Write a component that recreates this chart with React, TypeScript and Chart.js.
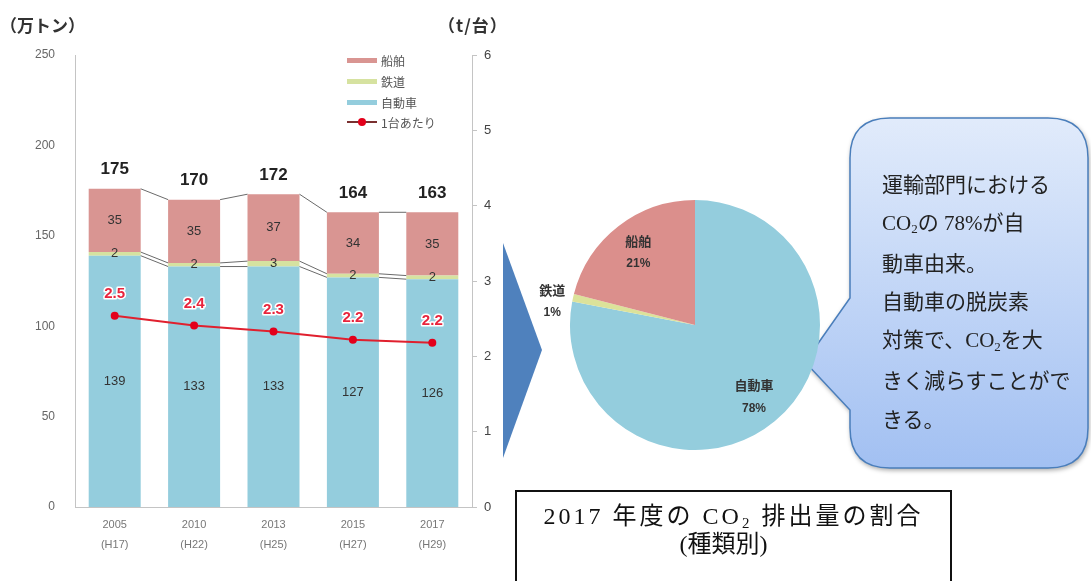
import React, { useEffect, useRef } from "react";
import { Chart, registerables } from "chart.js";

Chart.register(...registerables);

// ---------- data ----------
const years: string[][] = [
  ["2005", "(H17)"],
  ["2010", "(H22)"],
  ["2013", "(H25)"],
  ["2015", "(H27)"],
  ["2017", "(H29)"],
];
const carEmissions = [139, 133, 133, 127, 126];
const railEmissions = [2, 2, 3, 2, 2];
const shipEmissions = [35, 35, 37, 34, 35];
const totalEmissions = [175, 170, 172, 164, 163];
const perVehicle = [2.54, 2.41, 2.33, 2.22, 2.18];

const seriesNames = ["自動車", "鉄道", "船舶", "1台あたり"];
const pieLabels = ["自動車", "鉄道", "船舶"];
const pieShares = [78, 1, 21];

// ---------- styles ----------
const BLUE = "#94CDDD";
const RAIL = "#D6E2A0";
const PINK = "#D99592";
const RED = "#E0202E";
const SANS = "'Liberation Sans', 'Noto Sans CJK JP', sans-serif";
const CJK = "'Noto Sans CJK JP', 'Liberation Sans', sans-serif";
const SERIF = "'Liberation Serif', 'Noto Sans CJK JP', serif";

const barLabelPlugin = {
  id: "barLabels",
  afterDatasetsDraw(chart: any) {
    const ctx = chart.ctx as CanvasRenderingContext2D;
    ctx.save();
    const barMetas = [0, 1, 2].map((i) => chart.getDatasetMeta(i));
    // series connector lines
    ctx.strokeStyle = "#6a6a6a";
    ctx.lineWidth = 1;
    barMetas.forEach((meta: any) => {
      for (let j = 0; j < meta.data.length - 1; j++) {
        const a = meta.data[j];
        const b = meta.data[j + 1];
        ctx.beginPath();
        ctx.moveTo(a.x + a.width / 2, a.y);
        ctx.lineTo(b.x - b.width / 2, b.y);
        ctx.stroke();
      }
    });
    // segment labels
    ctx.textAlign = "center";
    ctx.textBaseline = "middle";
    ctx.font = `13px ${SANS}`;
    ctx.fillStyle = "#333";
    barMetas.forEach((meta: any, i: number) => {
      const vals = chart.data.datasets[i].data;
      meta.data.forEach((el: any, j: number) => {
        ctx.fillText(String(vals[j]), el.x, (el.y + el.base) / 2);
      });
    });
    // totals
    ctx.font = `bold 17px ${SANS}`;
    ctx.fillStyle = "#222";
    barMetas[2].data.forEach((el: any, j: number) => {
      ctx.fillText(String(totalEmissions[j]), el.x, el.y - 19);
    });
    // per vehicle labels
    const lm = chart.getDatasetMeta(3);
    ctx.font = `bold 15px ${SANS}`;
    ctx.lineJoin = "round";
    ctx.lineWidth = 3;
    ctx.strokeStyle = "#ffffff";
    ctx.fillStyle = "#E8243C";
    lm.data.forEach((pt: any, j: number) => {
      const t = perVehicle[j].toFixed(1);
      ctx.strokeText(t, pt.x, pt.y - 22);
      ctx.fillText(t, pt.x, pt.y - 22);
    });
    ctx.restore();
  },
};

const pieLabelPlugin = {
  id: "pieLabels",
  afterDatasetsDraw(chart: any) {
    const ctx = chart.ctx as CanvasRenderingContext2D;
    const meta = chart.getDatasetMeta(0);
    ctx.save();
    ctx.textAlign = "center";
    ctx.textBaseline = "middle";
    ctx.fillStyle = "#333";
    meta.data.forEach((arc: any, i: number) => {
      const mid = (arc.startAngle + arc.endAngle) / 2;
      const v = pieShares[i];
      const r = v < 5 ? arc.outerRadius * 1.17 : arc.outerRadius * 0.74;
      const x = arc.x + Math.cos(mid) * r;
      const y = arc.y + Math.sin(mid) * r + (v < 5 ? 8 : 0);
      ctx.font = `bold 13px ${CJK}`;
      ctx.fillText(pieLabels[i], x, y - 11);
      ctx.font = `bold 12px ${SANS}`;
      ctx.fillText(v + "%", x, y + 12);
    });
    ctx.restore();
  },
};

function BarChart() {
  const ref = useRef<HTMLCanvasElement>(null);
  useEffect(() => {
    if (!ref.current) return;
    const chart = new Chart(ref.current, {
      type: "bar",
      data: {
        labels: years,
        datasets: [
          { type: "bar", label: seriesNames[0], data: carEmissions, backgroundColor: BLUE, order: 1, yAxisID: "y" },
          { type: "bar", label: seriesNames[1], data: railEmissions, backgroundColor: RAIL, order: 1, yAxisID: "y" },
          { type: "bar", label: seriesNames[2], data: shipEmissions, backgroundColor: PINK, order: 1, yAxisID: "y" },
          {
            type: "line",
            label: seriesNames[3],
            data: perVehicle,
            yAxisID: "y1",
            order: 0,
            borderColor: RED,
            borderWidth: 2,
            pointRadius: 4,
            pointBackgroundColor: "#E3001B",
            pointBorderWidth: 0,
            tension: 0,
          } as any,
        ],
      },
      options: {
        responsive: false,
        maintainAspectRatio: false,
        animation: false,
        layout: { padding: { top: 55, left: 0, right: 0, bottom: 0 } },
        datasets: { bar: { categoryPercentage: 1, barPercentage: 0.655 } } as any,
        plugins: { legend: { display: false }, tooltip: { enabled: false } },
        scales: {
          x: {
            stacked: true,
            grid: { display: false, drawTicks: false },
            border: { display: true, color: "#c4c4c4" },
            ticks: { color: "#777", font: { family: SANS, size: 11, lineHeight: 1.8 }, padding: 8, maxRotation: 0 },
            afterFit: (s: any) => { s.height = 74; },
          },
          y: {
            stacked: true,
            position: "left",
            min: 0,
            max: 250,
            grid: { display: false, drawTicks: false },
            border: { display: true, color: "#c4c4c4" },
            ticks: { stepSize: 50, color: "#666", font: { family: SANS, size: 12 }, padding: 20 },
            afterFit: (s: any) => { s.width = 75; },
          },
          y1: {
            position: "right",
            min: 0,
            max: 6,
            grid: { display: true, drawOnChartArea: false, drawTicks: true, tickLength: 5, color: "#c4c4c4" },
            border: { display: true, color: "#c4c4c4" },
            ticks: { stepSize: 1, color: "#444", font: { family: SANS, size: 13 }, padding: 7 },
            afterFit: (s: any) => { s.width = 48; },
          },
        },
      },
      plugins: [barLabelPlugin],
    });
    return () => chart.destroy();
  }, []);
  return <canvas ref={ref} width={520} height={581} style={{ position: "absolute", left: 0, top: 0 }} />;
}

function PieChart() {
  const ref = useRef<HTMLCanvasElement>(null);
  useEffect(() => {
    if (!ref.current) return;
    const chart = new Chart(ref.current, {
      type: "pie",
      data: {
        labels: pieLabels,
        datasets: [{ data: pieShares, backgroundColor: [BLUE, "#DCE29A", "#DB8F8C"], borderWidth: 0 }],
      },
      options: {
        responsive: false,
        maintainAspectRatio: false,
        animation: false,
        layout: { padding: { left: 55, right: 55, top: 35, bottom: 35 } },
        plugins: { legend: { display: false }, tooltip: { enabled: false } },
      },
      plugins: [pieLabelPlugin],
    });
    return () => chart.destroy();
  }, []);
  return <canvas ref={ref} width={360} height={320} style={{ position: "absolute", left: 515, top: 165 }} />;
}

const Sub2 = () => <span style={{ fontSize: "0.62em", position: "relative", top: "0.25em" }}>2</span>;

const legendRows = [
  { name: seriesNames[2], color: PINK, y: 60 },
  { name: seriesNames[1], color: RAIL, y: 81 },
  { name: seriesNames[0], color: BLUE, y: 102 },
];

export default function App() {
  return (
    <div
      style={{
        position: "fixed",
        left: 0,
        top: 0,
        width: 1091,
        height: 581,
        overflow: "hidden",
        background: "#fff",
      }}
    >
      <BarChart />
      <div style={{ position: "absolute", left: 0, top: 13, font: `bold 17px ${CJK}`, color: "#333", lineHeight: "24px" }}>
        （万トン）
      </div>
      <div style={{ position: "absolute", left: 438, top: 13, font: `bold 17px ${CJK}`, color: "#333", lineHeight: "24px", letterSpacing: 1 }}>
        （t/台）
      </div>
      {legendRows.map((r) => (
        <div key={r.name} style={{ position: "absolute", left: 347, top: r.y - 9, height: 18, display: "flex", alignItems: "center" }}>
          <div style={{ width: 30, height: 5, background: r.color }} />
          <span style={{ marginLeft: 4, font: `12px ${CJK}`, color: "#555" }}>{r.name}</span>
        </div>
      ))}
      <div style={{ position: "absolute", left: 347, top: 113, height: 18, display: "flex", alignItems: "center" }}>
        <div style={{ position: "relative", width: 30, height: 18 }}>
          <div style={{ position: "absolute", left: 0, top: 8, width: 30, height: 2, background: "#7a3030" }} />
          <div style={{ position: "absolute", left: 11, top: 5, width: 8, height: 8, borderRadius: 4, background: "#E3001B" }} />
        </div>
        <span style={{ marginLeft: 4, font: `12px ${CJK}`, color: "#555" }}>{seriesNames[3]}</span>
      </div>

      <svg width={1091} height={581} style={{ position: "absolute", left: 0, top: 0 }}>
        <defs>
          <linearGradient id="cg" x1="0" y1="0" x2="0" y2="1">
            <stop offset="0" stopColor="#E1EBFB" />
            <stop offset="1" stopColor="#A2C0F2" />
          </linearGradient>
        </defs>
        <polygon points="503,243 542,350 503,458" fill="#4F81BD" />
        <path
          d="M 890 118 H 1048 Q 1088 118 1088 158 V 428 Q 1088 468 1048 468 H 890 Q 850 468 850 428 V 410 L 805 362 L 850 298 V 158 Q 850 118 890 118 Z"
          fill="url(#cg)"
          stroke="#4A7EBB"
          strokeWidth={1.5}
          style={{ filter: "drop-shadow(1px 2px 2px rgba(0,0,0,0.3))" }}
        />
      </svg>

      <PieChart />

      <div style={{ position: "absolute", left: 882, top: 166, font: `21px ${SERIF}`, lineHeight: "38.1px", color: "#222", whiteSpace: "nowrap" }}>
        <div>運輸部門における</div>
        <div>CO<Sub2 />の 78%が自</div>
        <div>動車由来。</div>
        <div>自動車の脱炭素</div>
        <div>対策で、CO<Sub2 />を大</div>
        <div>きく減らすことがで</div>
        <div>きる。</div>
      </div>

      <div
        style={{
          position: "absolute",
          left: 515,
          top: 490,
          width: 437,
          height: 110,
          border: "2px solid #111",
          boxSizing: "border-box",
          textAlign: "center",
          font: `24px ${SERIF}`,
          color: "#111",
          lineHeight: "25px",
          paddingTop: 12,
        }}
      >
        <div style={{ letterSpacing: 3 }}>2017 年度の CO<Sub2 /> 排出量の割合</div>
        <div style={{ marginRight: 20 }}>(種類別)</div>
      </div>
    </div>
  );
}
